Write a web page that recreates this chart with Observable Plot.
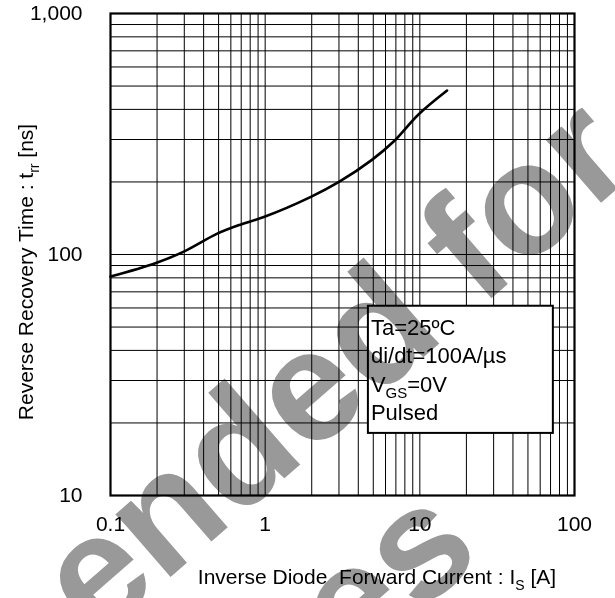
<!DOCTYPE html>
<html>
<head>
<meta charset="utf-8">
<script src="https://cdn.jsdelivr.net/npm/d3@7"></script>
<script src="https://cdn.jsdelivr.net/npm/@observablehq/plot@0.6"></script>
<style>
  html, body { margin: 0; padding: 0; background: #fff; }
  svg { display: block; }
</style>
</head>
<body>
<div id="chart"></div>
<script>
// Curve data: inverse diode forward current Is [A] vs reverse recovery time trr [ns]
const current = [0.1, 0.195, 0.3, 0.49, 0.69, 0.98, 1.96, 3.0, 4.9, 6.8, 9.8, 15];
const trr     = [81, 92, 103, 122, 133, 143, 173, 200, 247, 295, 381, 479];

// Grid lines (log decades)
const gridX = [0.1, 0.2, 0.3, 0.4, 0.5, 0.6, 0.7, 0.8, 0.9,
               1, 2, 3, 4, 5, 6, 7, 8, 9,
               10, 20, 30, 40, 50, 60, 70, 80, 90, 100];
const gridY = [10, 20, 30, 40, 50, 60, 70, 80, 90,
               100, 200, 300, 400, 500, 600, 700, 800, 900, 1000];

// Tick labels
const xTicks = [0.1, 1, 10, 100];
const xTickLabels = ["0.1", "1", "10", "100"];
const yTicks = [10, 100, 1000];
const yTickLabels = ["10", "100", "1,000"];

// Condition box text
const conditions = ["Ta=25ºC", "di/dt=100A/µs", "V|GS|=0V", "Pulsed"];

const data = current.map((c, i) => ({x: c, y: trr[i]}));
const FONT = "'Liberation Sans', Arial, sans-serif";

const plot = Plot.plot({
  width: 615,
  height: 598,
  marginLeft: 110,
  marginRight: 41,
  marginTop: 13,
  marginBottom: 103,
  style: {fontFamily: FONT, fontSize: "21px", color: "#000", background: "#fff"},
  x: {type: "log", domain: [0.1, 100], ticks: xTicks, tickFormat: (d) => xTickLabels[xTicks.indexOf(d)] ?? "", label: null},
  y: {type: "log", domain: [10, 1000], ticks: yTicks, tickFormat: (d) => yTickLabels[yTicks.indexOf(d)] ?? "", label: null},
  marks: [
    Plot.ruleX(gridX, {stroke: "#000", strokeWidth: 1}),
    Plot.ruleY(gridY, {stroke: "#000", strokeWidth: 1}),
    Plot.frame({stroke: "#000", strokeWidth: 2.2}),
    Plot.axisX(xTicks, {tickSize: 0, tickPadding: 21, fontSize: 21, tickFormat: (d) => xTickLabels[xTicks.indexOf(d)]}),
    Plot.axisY(yTicks, {tickSize: 0, tickPadding: 28, fontSize: 21, tickFormat: (d) => yTickLabels[yTicks.indexOf(d)]}),
    Plot.line(data, {x: "x", y: "y", stroke: "#000", strokeWidth: 2.6, curve: "catmull-rom"})
  ]
});

document.getElementById("chart").appendChild(plot);

const svg = d3.select(plot);
const sx = plot.scale("x"), sy = plot.scale("y");

// Condition box (placed in data space through the scales)
const bx1 = sx.apply(4.65), bx2 = sx.apply(73), by1 = sy.apply(61), by2 = sy.apply(18.1);
const legend = svg.append("g").attr("text-anchor", "start");
legend.append("rect")
  .attr("x", bx1).attr("y", by1)
  .attr("width", bx2 - bx1).attr("height", by2 - by1)
  .attr("fill", "#fff").attr("stroke", "#000").attr("stroke-width", 2);
conditions.forEach((line, i) => {
  const t = legend.append("text")
    .attr("x", bx1 + 3).attr("y", by1 + 29 + i * 28.4)
    .attr("text-anchor", "start")
    .attr("font-family", FONT).attr("font-size", 22).attr("fill", "#000");
  const parts = line.split("|");
  if (parts.length === 3) {
    t.append("tspan").text(parts[0]);
    t.append("tspan").attr("font-size", 15).attr("dy", 6).text(parts[1]);
    t.append("tspan").attr("dy", -6).text(parts[2]);
  } else {
    t.text(line);
  }
});

// Axis titles with subscripts
const xl = svg.append("text")
  .attr("x", 377).attr("y", 584)
  .attr("text-anchor", "middle")
  .attr("font-family", FONT).attr("font-size", 21).attr("fill", "#000");
xl.append("tspan").text("Inverse Diode\u00a0\u00a0Forward Current : I");
xl.append("tspan").attr("font-size", 14).attr("dy", 6).text("S");
xl.append("tspan").attr("dy", -6).text(" [A]");

const yl = svg.append("text")
  .attr("transform", "translate(33,272) rotate(-90)")
  .attr("text-anchor", "middle")
  .attr("font-family", FONT).attr("font-size", 21).attr("fill", "#000");
yl.append("tspan").text("Reverse Recovery Time : t");
yl.append("tspan").attr("font-size", 14).attr("dy", 6).text("rr");
yl.append("tspan").attr("dy", -6).text(" [ns]");

// Watermark (gray, multiplied over the chart)
const wm = svg.append("g").style("mix-blend-mode", "multiply").attr("fill", "#999")
  .attr("text-anchor", "start")
  .attr("font-family", FONT).attr("font-weight", "bold").attr("font-size", 158);
wm.append("text").attr("text-anchor", "start").attr("transform", "translate(96,642) rotate(-41)").text("ended for");
wm.append("text").attr("text-anchor", "start").attr("transform", "translate(352,672) rotate(-41)").text("es");
</script>
</body>
</html>
